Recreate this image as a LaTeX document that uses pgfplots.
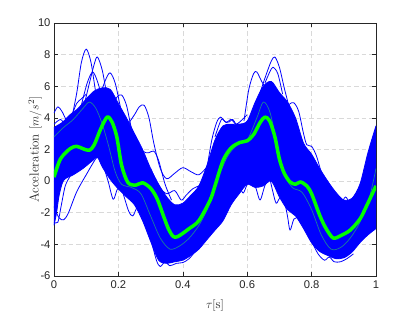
\documentclass[border=0pt]{standalone}
\usepackage{fontspec}
\setsansfont{Liberation Sans}
\usepackage{pgfplots}
\pgfplotsset{compat=1.18}
\usepgfplotslibrary{fillbetween}
\definecolor{mblue}{rgb}{0,0,1}
\definecolor{mgreen}{rgb}{0,1,0}
\definecolor{mteal}{rgb}{0.1,0.5,0.6}
\definecolor{axgray}{rgb}{0.15,0.15,0.15}
\begin{document}
\begin{tikzpicture}
\begin{axis}[
  at={(0pt,0pt)}, anchor=south west,
  scale only axis, width=322pt, height=253pt,
  xmin=0, xmax=1, ymin=-6, ymax=10,
  xtick={0,0.2,0.4,0.6,0.8,1}, xticklabels={0,0.2,0.4,0.6,0.8,1},
  ytick={-6,-4,-2,0,2,4,6,8,10}, yticklabels={-6,-4,-2,0,2,4,6,8,10},
  tick align=inside, major tick length=4pt,
  grid=major,
  major grid style={dash pattern=on 4.5pt off 3pt, color=black!15, line width=0.5pt},
  axis line style={axgray, line width=0.6pt},
  tick style={axgray, line width=0.6pt},
  tick label style={font=\sffamily\fontsize{11.2}{13}\selectfont, text=axgray},
  xticklabel style={yshift=-1pt},
  xlabel={$\tau[\mathrm{s}]$},
  ylabel={Acceleration $[m/s^2]$},
  label style={font=\fontsize{13}{15}\selectfont, text=axgray},
  xlabel style={at={(axis description cs:0.5,-0.115)}, anchor=center},
  ylabel style={at={(axis description cs:-0.059,0.5)}, anchor=center},
  every axis plot/.append style={line join=round},
]
% dense core envelope
\addplot[name path=U, mblue, line width=0.8pt, smooth] coordinates {
(0.000,3.4)(0.025,3.7)(0.050,4.2)(0.075,4.6)(0.100,5.2)(0.125,5.7)(0.150,5.9)(0.175,5.8)
(0.200,4.9)(0.225,4.0)(0.250,3.0)(0.275,2.0)(0.300,0.8)(0.325,-0.2)(0.350,-1.0)(0.375,-1.5)
(0.400,-1.4)(0.425,-0.9)(0.450,-0.3)(0.475,1.0)(0.500,2.6)(0.525,3.5)(0.550,3.6)(0.575,3.6)
(0.600,3.8)(0.625,5.0)(0.650,6.0)(0.675,6.3)(0.700,5.6)(0.725,5.0)(0.750,4.0)(0.775,2.4)
(0.800,1.7)(0.825,0.8)(0.850,0.0)(0.875,-0.7)(0.900,-1.2)(0.925,-1.1)(0.950,-0.2)(0.975,1.8)(1.000,3.5)};
\addplot[name path=L, mblue, line width=0.8pt, smooth] coordinates {
(0,-2.8)(0.008,-2.0)(0.016,-0.9)(0.03,0.05)(0.06,0.4)(0.09,0.8)(0.12,1.3)(0.135,1.5)(0.15,0.9)
(0.175,0.1)(0.2,-0.5)(0.225,-1.0)(0.25,-1.5)(0.275,-2.5)(0.3,-3.8)(0.325,-5.0)(0.35,-5.2)
(0.375,-5.1)(0.4,-5.0)(0.425,-4.7)(0.45,-4.3)(0.475,-3.7)(0.5,-3.1)(0.525,-2.5)(0.55,-1.5)
(0.575,-0.8)(0.6,-0.2)(0.625,-0.4)(0.65,-0.3)(0.675,0.0)(0.7,-1.0)(0.725,-1.8)(0.75,-2.2)
(0.775,-3.0)(0.8,-3.9)(0.825,-4.45)(0.85,-4.7)(0.875,-4.9)(0.9,-4.85)(0.925,-4.5)(0.95,-3.9)
(0.975,-3.4)(1.0,-3.0)};
\addplot[mblue] fill between[of=U and L];
% individual curves sticking out of the core
\addplot[mblue, line width=0.8pt, smooth] coordinates {(0.05,3.5)(0.07,5.5)(0.085,7.5)(0.1,8.35)(0.115,7.5)(0.13,5.6)(0.145,4.6)};
\addplot[mblue, line width=0.8pt, smooth] coordinates {(0.09,4.5)(0.11,6.2)(0.125,7.4)(0.135,7.85)(0.15,7.0)(0.165,5.4)(0.18,4.5)};
\addplot[mblue, line width=0.8pt, smooth] coordinates {(0.085,4.8)(0.103,6.2)(0.12,6.9)(0.135,6.3)(0.15,5.2)};
\addplot[mblue, line width=0.8pt, smooth] coordinates {(0.14,5.2)(0.158,6.3)(0.174,6.85)(0.19,6.2)(0.205,4.8)(0.215,3.9)};
\addplot[mblue, line width=0.8pt, smooth] coordinates {(0.18,4.6)(0.195,5.3)(0.21,5.45)(0.225,4.8)(0.24,3.4)(0.255,2.6)};
\addplot[mblue, line width=0.8pt, smooth] coordinates {(0.23,3.6)(0.25,4.2)(0.265,4.7)(0.28,4.8)(0.295,4.0)(0.31,2.4)(0.33,0.8)(0.35,0.15)(0.375,0.5)(0.40,0.85)(0.425,0.6)(0.45,0.4)(0.475,0.9)};
\addplot[mblue, line width=0.8pt, smooth] coordinates {(0.25,2.8)(0.275,1.9)(0.295,1.8)(0.31,1.9)(0.325,1.3)(0.345,-0.2)(0.365,-1.2)};
\addplot[mblue, line width=0.8pt, smooth] coordinates {(0,4.3)(0.012,4.7)(0.025,4.4)(0.04,3.8)(0.055,3.6)};
\addplot[mblue, line width=0.8pt, smooth] coordinates {(0,-1.6)(0.015,-2.3)(0.03,-2.45)(0.045,-2.0)(0.07,-0.7)(0.1,0.4)(0.133,1.5)(0.15,1.5)};
\addplot[mblue, line width=0.8pt, smooth] coordinates {(0,-2.6)(0.012,-2.6)(0.022,-1.6)(0.035,-0.3)(0.05,0.3)};
\addplot[mblue, line width=0.8pt, smooth] coordinates {(0.15,1.2)(0.168,0.0)(0.184,-1.15)(0.197,-0.5)(0.21,-0.6)};
\addplot[mblue, line width=0.8pt, smooth] coordinates {(0.215,-0.8)(0.232,-1.9)(0.245,-2.2)(0.26,-1.6)(0.275,-2.0)};
\addplot[mblue, line width=0.8pt, smooth] coordinates {(0.30,0.8)(0.325,-0.3)(0.35,-0.8)(0.375,-0.6)(0.395,-1.2)(0.41,-0.9)(0.43,-0.5)(0.45,-0.3)};
\addplot[mblue, line width=0.8pt, smooth] coordinates {(0.64,5.6)(0.66,6.8)(0.675,7.6)(0.686,7.85)(0.7,7.2)(0.715,5.9)(0.73,4.7)};
\addplot[mblue, line width=0.8pt, smooth] coordinates {(0.59,3.8)(0.605,5.8)(0.62,6.8)(0.63,6.9)(0.645,6.3)(0.66,5.8)};
\addplot[mblue, line width=0.8pt, smooth] coordinates {(0.655,6.2)(0.67,6.9)(0.68,7.2)(0.695,6.8)(0.71,5.5)};
\addplot[mblue, line width=0.8pt, smooth] coordinates {(0.71,4.4)(0.73,4.85)(0.745,4.95)(0.76,4.4)(0.775,3.0)(0.785,2.3)(0.8,2.2)(0.815,1.6)(0.83,0.6)(0.85,-0.2)};
\addplot[mblue, line width=0.8pt, smooth] coordinates {(0.475,0.8)(0.49,2.6)(0.505,3.7)(0.517,4.05)(0.532,3.75)(0.545,3.75)(0.555,3.9)(0.57,3.5)(0.59,3.6)};
\addplot[mblue, line width=0.8pt, smooth] coordinates {(0.565,0.3)(0.578,-0.4)(0.588,-0.75)(0.6,-0.2)(0.615,0.2)(0.628,-0.5)(0.64,-1.2)(0.653,-0.4)(0.665,0.3)};
\addplot[mblue, line width=0.8pt, smooth] coordinates {(0.67,0.2)(0.68,-0.7)(0.69,-1.4)(0.7,-1.1)(0.712,-1.0)(0.725,-2.2)(0.733,-3.1)(0.745,-2.4)(0.76,-2.3)};
% ragged edges
\addplot[mblue, line width=0.8pt, smooth] coordinates {(0.30,-3.6)(0.318,-5.0)(0.33,-5.4)(0.345,-5.1)(0.36,-5.35)(0.38,-5.2)(0.40,-5.15)(0.42,-4.9)(0.44,-4.4)};
\addplot[mblue, line width=0.8pt, smooth] coordinates {(0.80,-3.8)(0.82,-4.6)(0.84,-5.0)(0.855,-4.8)(0.87,-5.1)(0.89,-5.1)(0.91,-4.9)(0.93,-4.6)};
\addplot[mblue, line width=0.8pt, smooth] coordinates {(0,3.6)(0.02,3.9)(0.035,3.6)(0.05,3.9)(0.07,4.9)(0.085,5.2)(0.1,5.5)};
\addplot[mblue, line width=0.8pt, smooth] coordinates {(0.5,2.8)(0.52,3.9)(0.535,3.7)(0.55,3.9)(0.565,3.6)(0.58,3.8)(0.6,4.2)};
\addplot[mblue, line width=0.8pt, smooth] coordinates {(0.87,-0.6)(0.89,-1.4)(0.905,-1.0)(0.92,-1.35)(0.935,-0.9)(0.95,-0.3)};
% one curve in a different colour inside the core
\addplot[mteal, line width=0.7pt, smooth] coordinates {
(0,2.8)(0.03,3.4)(0.06,3.9)(0.09,4.6)(0.11,5.0)(0.13,4.6)(0.15,3.6)(0.17,2.2)(0.19,0.6)(0.21,-0.2)
(0.24,-0.4)(0.27,-0.8)(0.3,-2.2)(0.33,-3.6)(0.36,-4.3)(0.39,-4.1)(0.42,-3.6)(0.45,-2.8)(0.48,-1.6)
(0.51,0.2)(0.54,1.6)(0.57,2.3)(0.6,2.6)(0.63,4.0)(0.65,5.0)(0.67,4.4)(0.69,2.6)(0.71,0.6)(0.74,-0.4)
(0.77,-0.7)(0.8,-1.8)(0.83,-3.4)(0.86,-4.3)(0.89,-4.2)(0.92,-3.6)(0.95,-2.6)(0.98,-1.0)(1.0,0.8)};
% mean curve
\addplot[mgreen, line width=3.5pt, smooth] coordinates {
(0,0.25)(0.02,1.4)(0.05,2.05)(0.07,2.2)(0.09,2.05)(0.11,1.95)(0.125,2.3)(0.145,3.3)(0.165,4.05)
(0.18,3.75)(0.195,2.8)(0.21,1.0)(0.23,-0.1)(0.255,-0.25)(0.275,-0.1)(0.3,-0.45)(0.32,-1.1)
(0.34,-2.2)(0.355,-3.0)(0.37,-3.5)(0.385,-3.5)(0.42,-3.0)(0.45,-2.5)(0.485,-1.2)(0.5,-0.3)
(0.525,1.3)(0.55,2.1)(0.578,2.45)(0.6,2.55)(0.62,2.95)(0.64,3.7)(0.655,4.05)(0.67,3.8)(0.686,2.8)
(0.70,1.4)(0.715,0.5)(0.733,-0.05)(0.75,-0.2)(0.765,-0.05)(0.785,-0.3)(0.80,-0.8)(0.826,-2.2)
(0.845,-3.0)(0.867,-3.6)(0.89,-3.45)(0.92,-3.1)(0.95,-2.4)(0.97,-1.6)(1.0,-0.3)};
\end{axis}
\useasboundingbox (-54pt,-36pt) rectangle (361pt,276pt);
\end{tikzpicture}
\end{document}
